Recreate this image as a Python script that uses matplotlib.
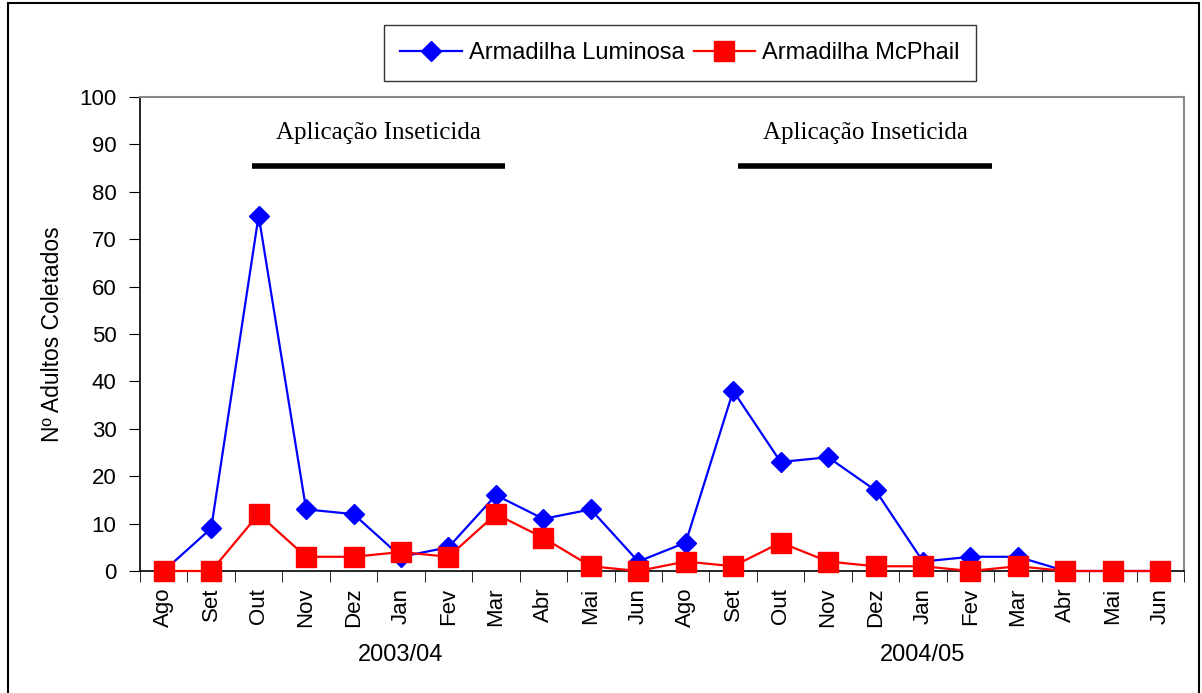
import matplotlib.pyplot as plt
from matplotlib.patches import Rectangle

meses = ['Ago', 'Set', 'Out', 'Nov', 'Dez', 'Jan', 'Fev', 'Mar', 'Abr', 'Mai', 'Jun',
         'Ago', 'Set', 'Out', 'Nov', 'Dez', 'Jan', 'Fev', 'Mar', 'Abr', 'Mai', 'Jun']
luminosa = [0, 9, 75, 13, 12, 3, 5, 16, 11, 13, 2, 6, 38, 23, 24, 17, 2, 3, 3, 0, 0, 0]
mcphail = [0, 0, 12, 3, 3, 4, 3, 12, 7, 1, 0, 2, 1, 6, 2, 1, 1, 0, 1, 0, 0, 0]
safras = ['2003/04', '2004/05']
safra_centro = [5, 16]
# periodos de aplicacao (em posicao de categoria)
aplic_ini = [1.86, 12.11]
aplic_fim = [7.19, 17.46]

plt.rcParams['font.family'] = ['Liberation Sans', 'DejaVu Sans']

fig = plt.figure(figsize=(12.02, 6.93), dpi=100)
ax = fig.add_axes([140/1202, 1-571/693, (1184-140)/1202, (571-97)/693])

x = list(range(len(meses)))
ax.plot(x, luminosa, '-D', color='#0000FF', lw=1.6, ms=10.5, label='Armadilha Luminosa', clip_on=False, zorder=3)
ax.plot(x, mcphail, '-s', color='#FF0000', lw=1.6, ms=14, label='Armadilha McPhail', clip_on=False, zorder=4)

ax.set_xlim(-0.5, len(meses) - 0.5)
ax.set_ylim(0, 100)
ax.set_yticks(range(0, 101, 10))
ax.set_xticks(x)
ax.set_xticklabels(meses, rotation=90, fontsize=16)
ax.set_xticks([i - 0.5 for i in range(len(meses) + 1)], minor=True)
ax.tick_params(axis='x', which='major', length=0, pad=12)
ax.tick_params(axis='x', which='minor', length=8, direction='out')
ax.tick_params(axis='y', labelsize=16, length=8, direction='out', pad=9)
ax.set_ylabel('Nº Adultos Coletados', fontsize=16.5)
ax.yaxis.set_label_coords(-0.073, 0.5)
for s in ['top', 'right']:
    ax.spines[s].set_color('#888888')
    ax.spines[s].set_linewidth(1.5)
for s in ['left', 'bottom']:
    ax.spines[s].set_linewidth(1.2)

for c, nome in zip(safra_centro, safras):
    ax.text(c, -17.7, nome, ha='center', va='center', fontsize=17)

for a, b in zip(aplic_ini, aplic_fim):
    ax.plot([a, b], [85.4, 85.4], color='black', lw=4, solid_capstyle='butt')
    ax.text((a + b) / 2, 92.3, 'Aplicação Inseticida', ha='center', va='center',
            fontsize=18, family='Liberation Serif')

leg = fig.legend(loc='center', bbox_to_anchor=(680/1202, 1-53/693), ncol=2,
                 fontsize=17, frameon=True, fancybox=False, edgecolor='black',
                 handlelength=2.6, columnspacing=0.4, handletextpad=0.3, borderpad=0.7,
                 borderaxespad=0)
leg.get_frame().set_linewidth(1.0)

fig.patches.append(Rectangle((8/1202, -0.02), (1199-8)/1202, 1.02-3/693, transform=fig.transFigure,
                             fill=False, edgecolor='black', lw=1.5))

fig.savefig('out.png', dpi=100)
